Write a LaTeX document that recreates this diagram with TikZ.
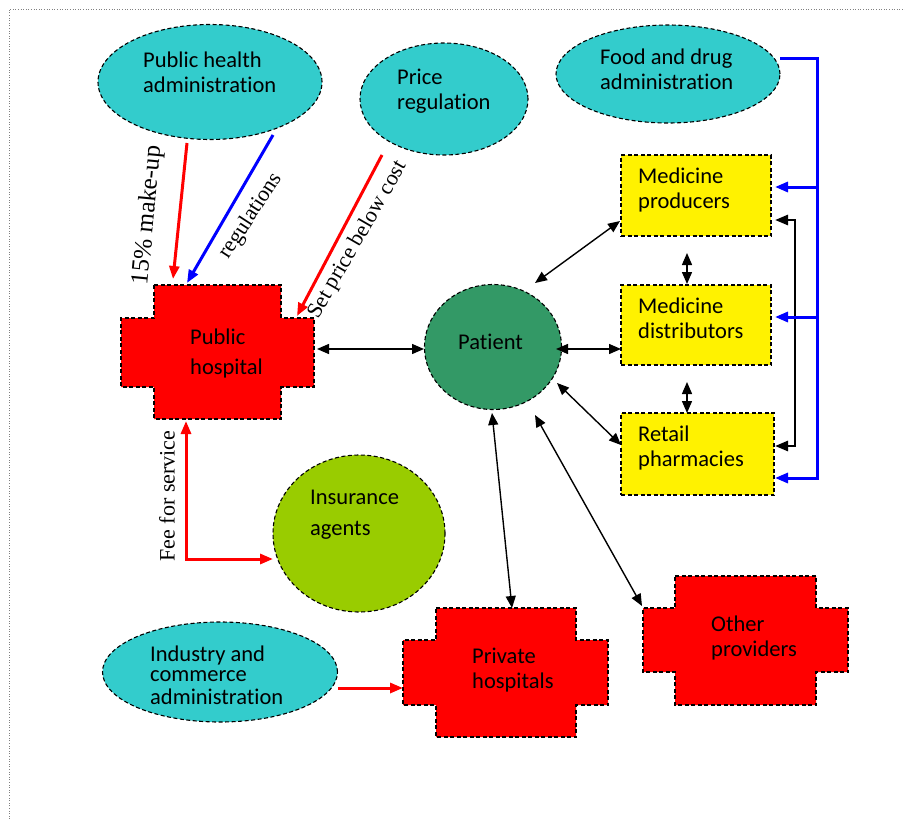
\documentclass[tikz,border=0pt]{standalone}
\usepackage{fontspec}
\setmainfont{Liberation Serif}
\newfontfamily\calibri[Ligatures={NoCommon}]{Carlito}
\usetikzlibrary{arrows.meta,shapes.geometric,calc}
\definecolor{cyanfill}{HTML}{33CCCC}
\definecolor{patfill}{HTML}{339966}
\definecolor{insfill}{HTML}{99CC00}
\tikzset{
  bord/.style={draw=black, line width=1.1pt, dash pattern=on 4pt off 2.5pt},
  ell/.style={bord, ellipse, fill=cyanfill, inner sep=0pt},
  ybox/.style={bord, rectangle, fill=yellow, inner sep=0pt},
  crossfill/.style={bord, fill=red},
  txt/.style={font=\calibri\fontsize{22.5}{25}\selectfont, align=left, anchor=west, inner sep=0pt},
  lbl/.style={font=\fontsize{22}{26}\selectfont, inner sep=0pt},
  tipb/.tip={Triangle[length=12pt,width=10pt]},
  tipc/.tip={Triangle[length=13pt,width=10pt]},
  blk/.style={draw=black, line width=1.4pt},
  blkthick/.style={draw=black, line width=2.6pt},
  redarr/.style={draw=red, line width=3pt},
  bluearr/.style={draw=blue, line width=3pt},
}
\newcommand\drawcross[8]{%
  \path[crossfill] (#2,#5) -- (#3,#5) -- (#3,#6) -- (#4,#6) -- (#4,#7) -- (#3,#7)
    -- (#3,#8) -- (#2,#8) -- (#2,#7) -- (#1,#7) -- (#1,#6) -- (#2,#6) -- cycle;}
\begin{document}
\begin{tikzpicture}[x=1pt,y=-1pt]
\useasboundingbox (0,0) rectangle (905,819);
\draw[gray, line width=0.6pt, dotted] (9,819) -- (9,9) -- (905,9);

% ellipses
\node[ell, minimum width=224pt, minimum height=115pt] (pha) at (210,82) {};
\node[ell, minimum width=168pt, minimum height=112pt] (price) at (444,99) {};
\node[ell, minimum width=224pt, minimum height=98pt] (fda) at (668,74) {};
\node[ell, minimum width=235pt, minimum height=100pt] (ica) at (220,672) {};
\node[txt] (phat) at (143,74.5) {\strut Public health\\\strut administration};
\node[txt] (pricet) at (397,92) {\strut Price\\\strut regulation};
\node[txt] (fdat) at (600,72) {\strut Food and drug\\\strut administration};
\node[txt, font=\calibri\fontsize{22.5}{20.5}\selectfont] (icat) at (150,678) {\strut Industry and\\\strut commerce\\\strut administration};

% yellow boxes
\node[ybox, minimum width=150pt, minimum height=81pt] (prod) at (696,195.5) {};
\node[ybox, minimum width=150pt, minimum height=80pt] (dist) at (696,325) {};
\node[ybox, minimum width=153pt, minimum height=82pt] (ret) at (697.5,454) {};
\node[txt] (prodt) at (638,191) {\strut Medicine\\\strut producers};
\node[txt] (distt) at (638,320.5) {\strut Medicine\\\strut distributors};
\node[txt] (rett) at (638,449) {\strut Retail\\\strut pharmacies};

% patient and insurance
\node[bord, ellipse, fill=patfill, minimum width=137pt, minimum height=125pt, inner sep=0pt] (pat) at (493,347) {};
\node[txt] (patt) at (458,342) {Patient};
\node[bord, ellipse, fill=insfill, minimum width=172pt, minimum height=157pt, inner sep=0pt] (ins) at (359,533.5) {};
\node[txt, font=\calibri\fontsize{22.5}{31}\selectfont] (inst) at (310,514) {\strut Insurance\\\strut agents};

% crosses
\drawcross{121}{154}{281}{314}{285}{318}{387}{419}
\drawcross{403}{436}{576}{608}{608}{640}{705}{737}
\drawcross{643}{675}{816}{848}{576}{608}{672}{705}
\node[txt, font=\calibri\fontsize{22.5}{30}\selectfont] (pubh) at (190,353.5) {\strut Public\\\strut hospital};
\node[txt] (priv) at (472,671) {\strut Private\\\strut hospitals};
\node[txt] (oth) at (711,639) {\strut Other\\\strut providers};

% labels
\node[lbl, font=\fontsize{25}{28}\selectfont, rotate=84.5] (lmk) at (148.5,215) {15\% make-up};
\node[lbl, rotate=57] (lreg) at (251,216) {regulations};
\node[lbl, rotate=60] (lset) at (358,240) {Set price below cost};
\node[lbl, rotate=90] (lfee) at (167,496) {Fee for service};

% coordinates for connectors
\coordinate (mk1) at (187,143); \coordinate (mk2) at (173,279);
\coordinate (rg1) at (273,135); \coordinate (rg2) at (187,283);
\coordinate (sp1) at (382,155); \coordinate (sp2) at (297,316);
\coordinate (fe1) at (273,559); \coordinate (fe2) at (186,421);
\coordinate (ic1) at (338,688); \coordinate (ic2) at (403,688);

\draw[redarr, -tipc] (mk1) -- (mk2);
\draw[bluearr, -tipc] (rg1) -- (rg2);
\draw[redarr, -tipc] (sp1) -- (sp2);
\draw[redarr, tipc-tipc] (fe1) -- (186,559) -- (fe2);
\draw[redarr, -tipc] (ic1) -- (ic2);

% black double arrows
\draw[blk, tipb-tipb] (317,349) -- (424,349);
\draw[blk, tipb-tipb] (535,283) -- (620,221);
\draw[blk, tipb-tipb] (556,349) -- (621,349);
\draw[blk, tipb-tipb] (557,383) -- (621,445);
\draw[blk, tipb-tipb] (492,413) -- (512,608);
\draw[blk, tipb-tipb] (535,415) -- (642,606);
\draw[blk, tipb-tipb] (687,253) -- (687,284);
\draw[blk, tipb-tipb] (687,382) -- (687,413);
\draw[blkthick, tipc-tipc] (775,220) -- (795,220) -- (795,446) -- (775,446);

% blue FDA lines
\draw[bluearr, -tipc] (780,58) -- (817,58) -- (817,478) -- (775,478);
\draw[bluearr, -tipc] (817,187) -- (775,187);
\draw[bluearr, -tipc] (817,317) -- (775,317);
\end{tikzpicture}
\end{document}
